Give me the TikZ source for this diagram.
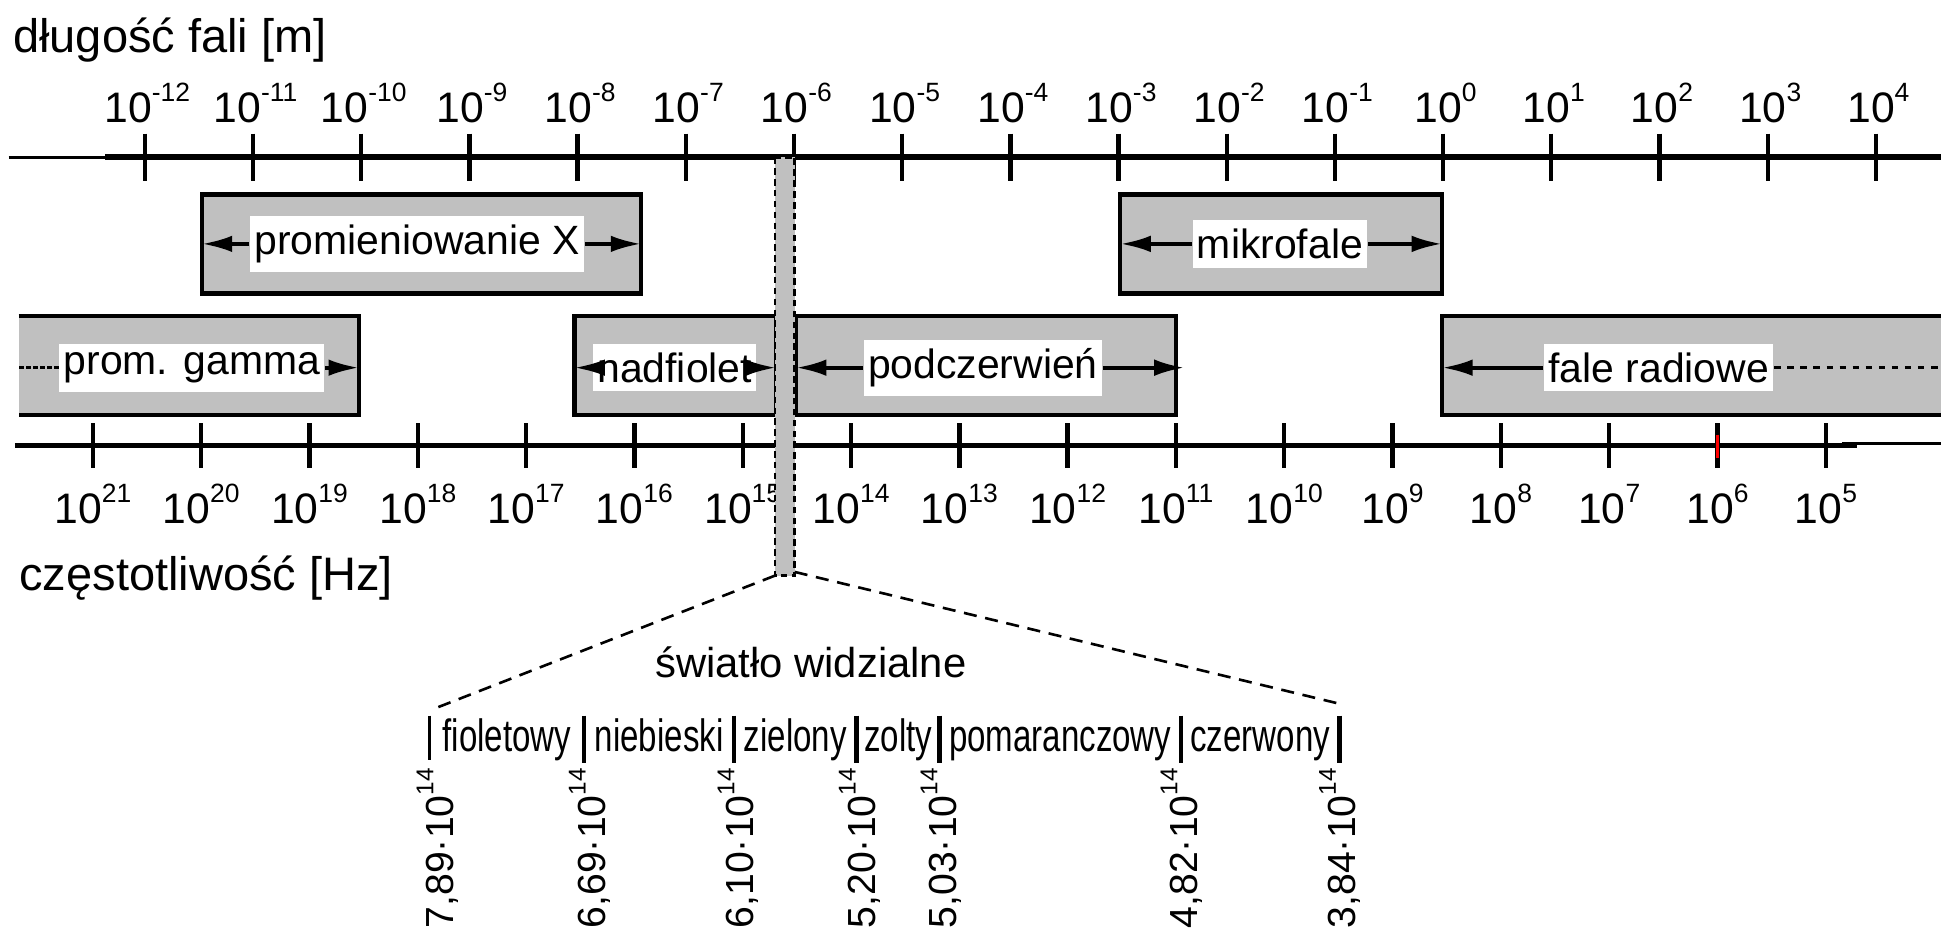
\documentclass[tikz,border=0pt]{standalone}
\usepackage{fontspec}
\usepackage{graphicx}
\setmainfont{Liberation Sans}
\newfontfamily\narrowfont[FakeStretch=0.73]{Liberation Sans}
\usetikzlibrary{arrows.meta}
\definecolor{bandgray}{RGB}{192,192,192}
\newcommand{\tenpow}[1]{10\raisebox{0.5em}{\scalebox{0.62}{#1}}}
\tikzset{
    axisline/.style={line width=1.3pt},
    thinaxis/.style={line width=0.6pt},
    tickline/.style={line width=1pt},
    band/.style={draw, line width=1pt, fill=bandgray},
    bandlabel/.style={
        fill=white,
        inner xsep=1pt,
        inner ysep=2pt,
        font=\fontsize{9.4}{10}\selectfont
    },
    bandarrow/.style={
        -{Latex[length=7pt, width=3.8pt]},
        line width=0.9pt
    },
    openend/.style={
        line width=0.7pt,
        dash pattern=on 1.5pt off 1.5pt
    },
    ticklabel/.style={inner sep=0pt, font=\fontsize{9.8}{11}\selectfont},
    colorname/.style={inner sep=0pt, font=\narrowfont\fontsize{10.4}{11}\selectfont},
    freqlabel/.style={inner sep=0pt, rotate=90, anchor=base east,
        font=\fontsize{9}{10}\selectfont}
}

\begin{document}
\begin{tikzpicture}[x=0.01cm, y=-0.01cm]
  \useasboundingbox (0,0) rectangle (1568,753);

  % Wavelength axis
  \node[anchor=base west, inner sep=0pt, font=\fontsize{10.8}{12}\selectfont] (wavename) at (10,42) {długość fali [m]};
  \draw[thinaxis] (7,127) -- (90,127);
  \draw[axisline] (85,127) -- (1568,127);
  \foreach \e [count=\i from 0] in {-12,...,4}{
    \draw[tickline] (117+87.4*\i,108) -- (117+87.4*\i,146);
    \node[ticklabel, anchor=base] (wl\i) at (119+87.4*\i,99) {\tenpow{\e}};
  }

  % Bands, upper row
  \draw[band] (163,157) rectangle (518,237);
  \coordinate (xrayW) at (163,197);
  \coordinate (xrayE) at (518,197);
  \node[bandlabel] (xray) at (337,197) {promieniowanie X};
  \draw[bandarrow] (xray) -- (xrayW);
  \draw[bandarrow] (xray) -- (xrayE);

  \draw[band] (905,157) rectangle (1165,237);
  \coordinate (microW) at (905,197);
  \coordinate (microE) at (1165,197);
  \node[bandlabel] (micro) at (1034,197) {mikrofale};
  \draw[bandarrow] (micro) -- (microW);
  \draw[bandarrow] (micro) -- (microE);

  % Bands, lower row
  \fill[bandgray] (15,255) rectangle (290,335);
  \draw[line width=1pt] (15,255) -- (290,255) -- (290,335) -- (15,335);
  \coordinate (gammaW) at (15,297);
  \coordinate (gammaE) at (290,297);
  \node[bandlabel] (gamma) at (155,297) {prom. gamma};
  \draw[openend, dash pattern=on 1pt off 0.6pt] (gamma) -- (gammaW);
  \draw[bandarrow] (gamma) -- (gammaE);

  \draw[band] (464,255) rectangle (627,335);
  \coordinate (uvW) at (464,297);
  \coordinate (uvE) at (627,297);
  \node[bandlabel] (uv) at (545,297) {nadfiolet};
  \draw[bandarrow] (uv) -- (uvW);
  \draw[bandarrow] (uv) -- (uvE);

  \draw[band] (643,255) rectangle (950,335);
  \coordinate (irW) at (643,297);
  \coordinate (irE) at (957,297);
  \node[bandlabel] (ir) at (794,297) {podczerwień};
  \draw[bandarrow] (ir) -- (irW);
  \draw[bandarrow] (ir) -- (irE);

  \fill[bandgray] (1165,255) rectangle (1568,335);
  \draw[line width=1pt] (1568,255) -- (1165,255) -- (1165,335) -- (1568,335);
  \coordinate (radioW) at (1165,297);
  \coordinate (radioE) at (1568,297);
  \node[bandlabel] (radio) at (1340,297) {fale radiowe};
  \draw[bandarrow] (radio) -- (radioW);
  \draw[openend] (radio) -- (radioE);

  % Frequency axis
  \draw[axisline] (12,360) -- (1500,360);
  \draw[thinaxis] (1488,358.5) -- (1568,358.5);
  \foreach \e [count=\i from 0] in {21,20,...,5}{
    \draw[tickline] (75+87.5*\i,342) -- (75+87.5*\i,378);
    \node[ticklabel, anchor=base] (fl\i) at (75+87.5*\i,423) {\tenpow{\e}};
  }
  \draw[red, line width=0.8pt] (1387.5,351) -- (1387.5,370);
  \node[anchor=base west, inner sep=0pt, font=\fontsize{10.8}{12}\selectfont] (freqname) at (15,477) {częstotliwość [Hz]};

  % Visible strip and its zoom
  \draw[fill=bandgray, line width=0.6pt, dash pattern=on 1.5pt off 1pt] (626,127) rectangle (642,465);
  \coordinate (visL) at (626,465);
  \coordinate (visR) at (642,462);
  \coordinate (fanL) at (352,572);
  \coordinate (fanR) at (1080,568);
  \draw[line width=0.6pt, dash pattern=on 3pt off 2pt] (visL) -- (fanL);
  \draw[line width=0.6pt, dash pattern=on 3pt off 2pt] (visR) -- (fanR);
  \node[font=\fontsize{9.6}{11}\selectfont, inner sep=0pt] (vislbl) at (655,535) {światło widzialne};

  % Colour scale
  \draw[line width=0.5pt] (347,578) -- (347,614);
  \foreach \x in {472,593,692,759,954,1082}
    \draw[line width=1pt] (\x,578) -- (\x,616);
  \node[colorname, anchor=base] (violet) at (409.5,607) {fioletowy};
  \node[colorname, anchor=base] (blue) at (532.5,607) {niebieski};
  \node[colorname, anchor=base] (green) at (642.5,607) {zielony};
  \node[colorname, anchor=base] (yellow) at (725.5,607) {zolty};
  \node[colorname, anchor=base] (orange) at (856.5,607) {pomaranczowy};
  \node[colorname, anchor=base] (red) at (1018,607) {czerwony};

  \node[freqlabel] (f1) at (366,620) {7,89·\tenpow{14}};
  \node[freqlabel] (f2) at (489,620) {6,69·\tenpow{14}};
  \node[freqlabel] (f3) at (609,620) {6,10·\tenpow{14}};
  \node[freqlabel] (f4) at (707,620) {5,20·\tenpow{14}};
  \node[freqlabel] (f5) at (773,620) {5,03·\tenpow{14}};
  \node[freqlabel] (f6) at (967,620) {4,82·\tenpow{14}};
  \node[freqlabel] (f7) at (1095,620) {3,84·\tenpow{14}};
\end{tikzpicture}
\end{document}
